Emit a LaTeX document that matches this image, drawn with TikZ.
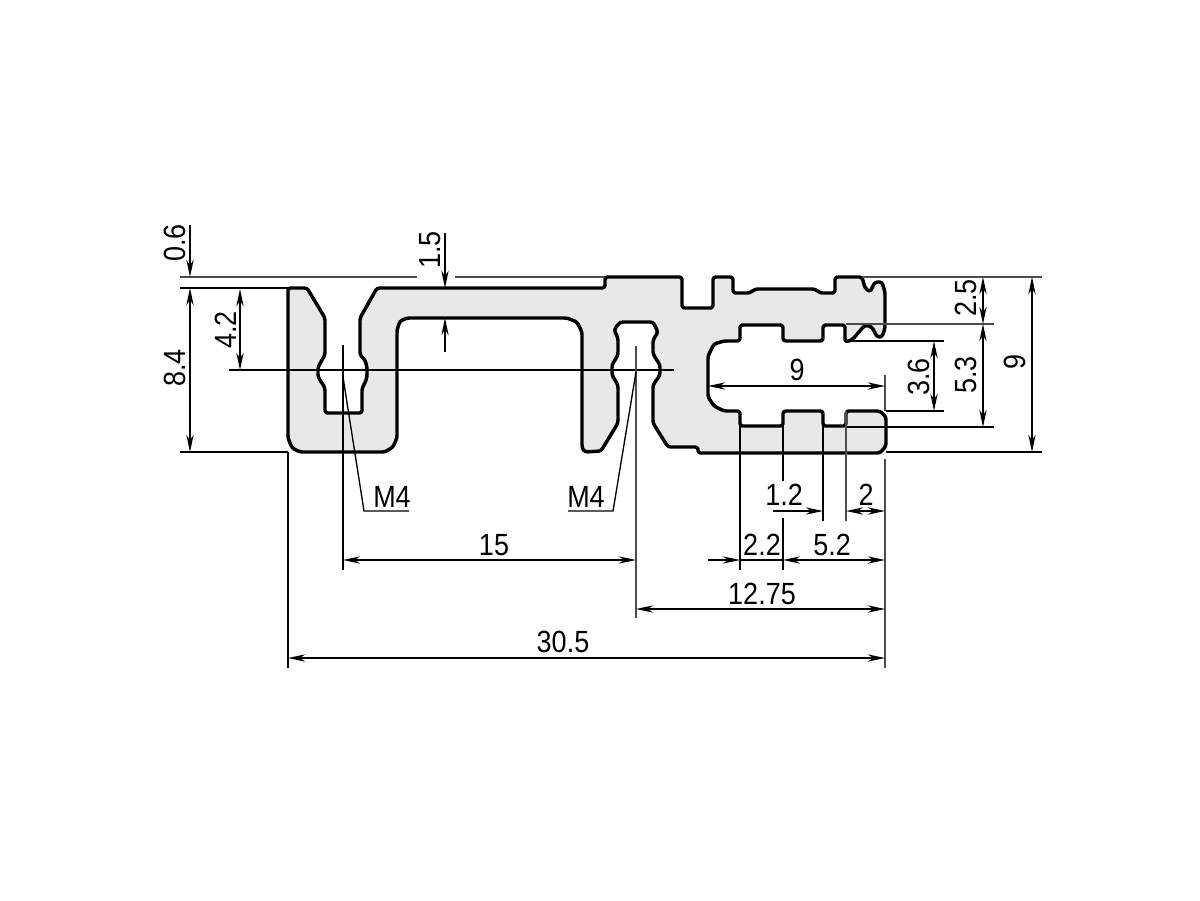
\documentclass[tikz,border=0pt]{standalone}
\usepackage{fontspec}
\usepackage{graphicx}
\setmainfont{Liberation Sans}
\usetikzlibrary{arrows.meta}
\definecolor{profil}{HTML}{E8E8E8}
\newcommand{\dimtext}[1]{\scalebox{0.88}[1]{#1}}
\tikzset{
	outline/.style = {line width = 2.6pt, line join = round, fill = profil, rounded corners = 2pt},
	dimline/.style = {line width = 1pt},
	extline/.style = {line width = 1.1pt, black!70},
	darrow/.style = {dimline, {Stealth[length = 13pt, width = 5.5pt]}-{Stealth[length = 13pt, width = 5.5pt]}},
	rarrow/.style = {dimline, -{Stealth[length = 13pt, width = 5.5pt]}},
	larrow/.style = {dimline, {Stealth[length = 13pt, width = 5.5pt]}-},
	lbl/.style = {inner sep = 0pt, font = \fontsize{23}{27}\selectfont},
	vlbl/.style = {lbl, rotate = 90}
}
\begin{document}
\begin{tikzpicture}[x = 0.75pt, y = -0.75pt]
	\useasboundingbox (0, 0) rectangle (1200, 900);

	% profile
	\draw[outline] (288, 288)--(307, 288)--(325, 318)--(325, 355)--(322, 360)--(318, 367)--(318, 377)--(322, 383)--(325, 388)--(325, 413)--(362, 413)--(362, 388)--(365, 383)--(367, 377)--(367, 367)--(365, 360)--(360, 355)--(360, 318)--(377, 288)
		--(605, 288)--(605, 277)--(682, 277)--(682, 308)--(713, 308)--(713, 277)--(733, 277)--(733, 293)--(750, 293)--(755, 289)--(815, 289)--(820, 293)--(835, 293)--(835, 277)--(862, 277)--(865, 288)--(870, 292)--(875, 282)--(882, 282)--(885, 292)
		--(885, 328)--(882, 337)--(877, 337)--(872, 327)--(865, 325)--(852, 340)--(845, 342)--(845, 325)--(823, 325)--(823, 341)--(783, 341)--(783, 325)--(740, 325)--(740, 341)--(724, 341)--(714, 344)--(708, 356)--(708, 397)--(714, 406)--(724, 411)--(740, 411)--(740, 426)--(783, 426)--(783, 411)--(823, 411)--(823, 426)--(846, 426)--(846, 411)--(880, 411)--(886, 417)--(886, 446)--(880, 453)
		--(698, 453)--(698, 447)--(668, 447)--(653, 423)--(653, 385)--(660, 375)--(660, 365)--(653, 354)--(653, 340)--(658, 332)--(653, 322)--(620, 322)--(614, 330)--(618, 338)--(618, 355)--(612, 365)--(612, 375)--(618, 385)--(618, 423)--(601, 451)--(585, 452)--(582, 448)--(582, 332)--(577, 322)--(567, 318)
		--(407, 318)--(400, 321)--(397, 330)--(397, 438)--(393, 447)--(385, 452)--(300, 452)--(292, 448)--(288, 438)--cycle;

	% extension lines
	\coordinate[](top) at (862, 277);
	\coordinate[](base) at (886, 452);
	\draw[extline] (180, 277)--(417, 277);
	\draw[extline] (455, 277)--(605, 277);
	\draw[extline] (top)--(1042, 277);
	\draw[dimline] (180, 288)--(288, 288);
	\draw[dimline] (180, 452)--(288, 452);
	\draw[dimline] (base)--(1042, 452);
	\draw[dimline] (229, 370)--(674, 370);
	\draw[extline] (846, 324)--(994, 324);
	\draw[dimline] (846, 341)--(944, 341);
	\draw[dimline] (886, 411)--(944, 411);
	\draw[dimline] (846, 427)--(994, 427);

	\draw[dimline] (288, 452)--(288, 668);
	\draw[dimline] (343, 345)--(343, 570);
	\draw[extline] (636, 346)--(636, 618);
	\draw[dimline] (740, 426)--(740, 570);
	\draw[dimline] (783, 426)--(783, 481);
	\draw[dimline] (783, 518)--(783, 570);
	\draw[dimline] (823, 426)--(823, 521);
	\draw[extline] (846, 411)--(846, 521);
	\draw[extline] (885, 459)--(885, 668);
	\draw[extline] (885, 375)--(885, 411);

	% left and top dimensions
	\draw[rarrow] (190, 225)--(190, 277);
	\draw[darrow] (190, 288)--(190, 452);
	\draw[darrow] (240, 289)--(240, 370);
	\draw[rarrow] (445, 233)--(445, 288);
	\draw[larrow] (445, 318)--(445, 352);
	\node[vlbl] (d06) at (175, 243) {\dimtext{0.6}};
	\node[vlbl] (d84) at (175, 368) {\dimtext{8.4}};
	\node[vlbl] (d42) at (226, 330) {\dimtext{4.2}};
	\node[vlbl] (d15) at (430, 250) {\dimtext{1.5}};

	% right dimensions
	\draw[darrow] (1032, 277)--(1032, 452);
	\draw[darrow] (983, 277)--(983, 324);
	\draw[darrow] (983, 324)--(983, 427);
	\draw[darrow] (934, 341)--(934, 411);
	\draw[darrow] (708, 386)--(885, 386);
	\node[vlbl] (d25) at (966, 298) {\dimtext{2.5}};
	\node[vlbl] (d53) at (966, 375) {\dimtext{5.3}};
	\node[vlbl] (d36) at (919, 377) {\dimtext{3.6}};
	\node[vlbl] (d9r) at (1015, 362) {\dimtext{9}};
	\node[lbl] (d9i) at (797, 370) {\dimtext{9}};

	% bottom dimensions
	\draw[rarrow] (773, 511)--(823, 511);
	\draw[darrow] (846, 511)--(885, 511);
	\draw[rarrow] (708, 560)--(740, 560);
	\draw[darrow] (783, 560)--(885, 560);
	\draw[dimline] (740, 560)--(783, 560);
	\draw[darrow] (343, 560)--(636, 560);
	\draw[darrow] (636, 609)--(885, 609);
	\draw[darrow] (288, 658)--(885, 658);
	\node[lbl] (d12) at (784, 495) {\dimtext{1.2}};
	\node[lbl] (d2) at (866, 495) {\dimtext{2}};
	\node[lbl] (d22) at (762, 545) {\dimtext{2.2}};
	\node[lbl] (d52) at (832, 545) {\dimtext{5.2}};
	\node[lbl] (d1275) at (762, 594) {\dimtext{12.75}};
	\node[lbl] (d15h) at (494, 545) {\dimtext{15}};
	\node[lbl] (d305) at (563, 642) {\dimtext{30.5}};

	% thread callouts
	\node[lbl] (ma) at (392, 497) {\dimtext{M4}};
	\node[lbl] (mb) at (586, 497) {\dimtext{M4}};
	\draw[dimline] (343, 377)--(364, 511)--(409, 511);
	\draw[dimline] (636, 372)--(613, 511)--(568, 511);
\end{tikzpicture}
\end{document}
